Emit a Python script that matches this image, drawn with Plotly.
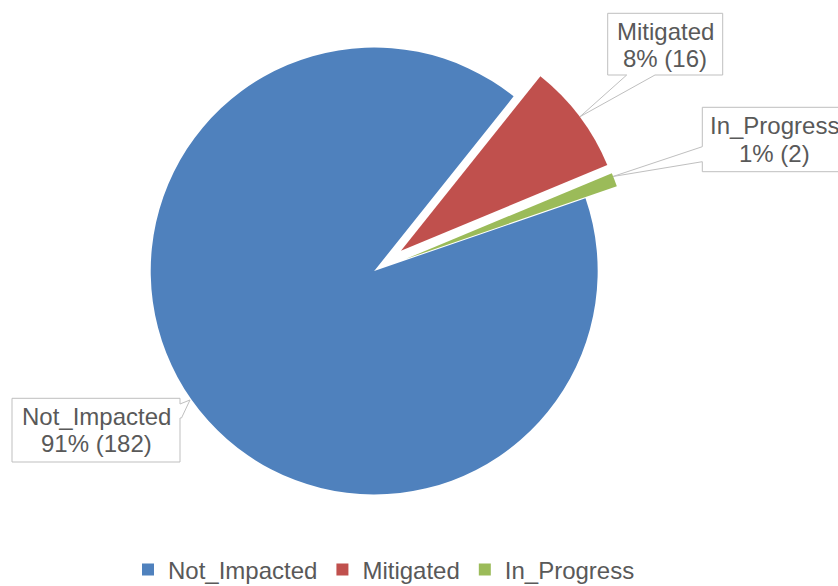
import plotly.graph_objects as go

# ---- data ----
categories = ["Not_Impacted", "Mitigated", "In_Progress"]
values = [182, 16, 2]
colors = ["#4F81BD", "#C0504D", "#9BBB59"]

W, H = 838, 586
FONT = "Arial, 'Liberation Sans', sans-serif"
TXT = "#595959"
BORDER = "#BFBFBF"

def px(x):
    return x / W

def py(y):
    return 1 - y / H

total = sum(values)
pcts = [round(v / total * 100) for v in values]

# pie geometry (pixels): centre and domain size
cx, cy, size = 374.2, 271.0, 514.0
fig = go.Figure(go.Pie(
    labels=categories,
    values=values,
    marker=dict(colors=colors, line=dict(width=0)),
    sort=False,
    direction="clockwise",
    rotation=71,
    pull=[0, 0.15, 0.15],
    textinfo="none",
    hoverinfo="label+value+percent",
    domain=dict(x=[px(cx - size / 2), px(cx + size / 2)],
                y=[py(cy + size / 2), py(cy - size / 2)]),
))

# callout boxes (box with pointer) in pixel coords
callouts = {
    "Mitigated": [(607.7, 13.3), (722.7, 13.3), (722.7, 75), (655, 75),
                  (580, 116.7), (626.7, 75), (607.7, 75)],
    "In_Progress": [(702.3, 107.3), (845.7, 107.3), (845.7, 171.7), (702.3, 171.7),
                    (702.3, 161.7), (613, 176.5), (702.3, 146.7)],
    "Not_Impacted": [(12, 398.3), (180, 398.3), (180, 404), (190, 400),
                     (181.5, 418), (180, 418), (180, 462), (12, 462)],
}
label_pos = {  # text centre of the two lines (x, y1, y2)
    "Mitigated": (665.2, 31, 58),
    "In_Progress": (774, 126, 153),
    "Not_Impacted": (96, 416, 443),
}

shapes = []
annotations = []
for name, val, pct in zip(categories, values, pcts):
    pts = callouts[name]
    path = "M " + " L ".join(f"{px(x):.5f},{py(y):.5f}" for x, y in pts) + " Z"
    shapes.append(dict(type="path", xref="paper", yref="paper", path=path,
                       fillcolor="white", line=dict(color=BORDER, width=1),
                       layer="above"))
    x, y1, y2 = label_pos[name]
    for t, yy in ((name, y1), (f"{pct}% ({val})", y2)):
        annotations.append(dict(x=px(x), y=py(yy), xref="paper", yref="paper",
                                text=t, showarrow=False, xanchor="center",
                                yanchor="middle",
                                font=dict(family=FONT, size=24, color=TXT)))

fig.update_layout(
    width=W, height=H,
    margin=dict(l=0, r=0, t=0, b=0, autoexpand=False),
    paper_bgcolor="white",
    plot_bgcolor="white",
    shapes=shapes,
    annotations=annotations,
    showlegend=True,
    legend=dict(orientation="h", x=px(128), xanchor="left",
                y=py(570), yanchor="middle",
                font=dict(family=FONT, size=24, color=TXT),
                itemwidth=30, traceorder="normal"),
)

fig.write_html("out.html")
